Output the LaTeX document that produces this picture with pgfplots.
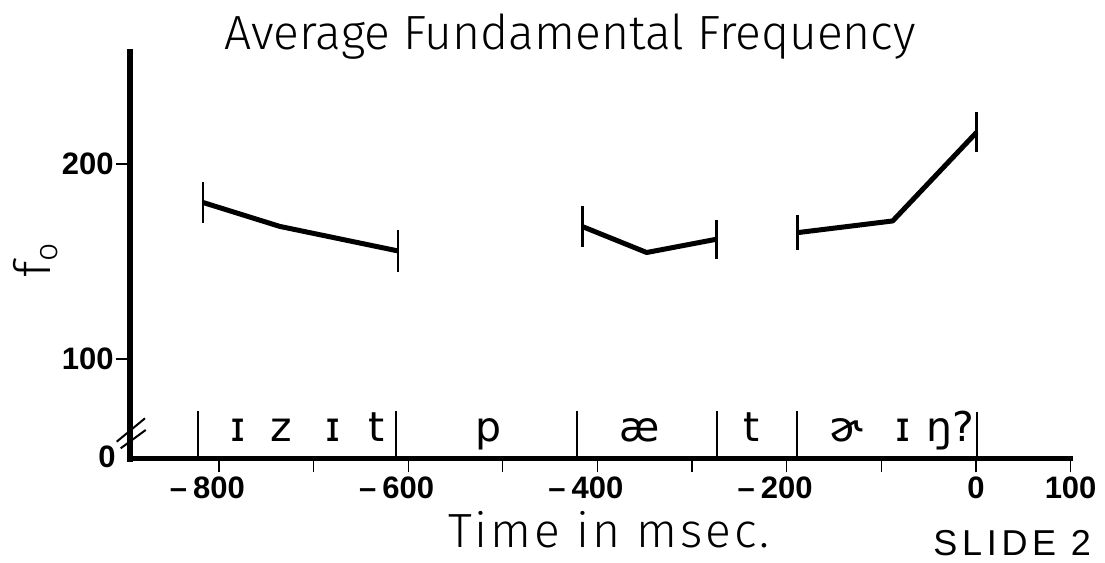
\documentclass[border=0pt]{standalone}
\usepackage{pgfplots}
\pgfplotsset{compat=1.18}
\usepackage{fontspec}
\setmainfont{Liberation Sans}
\newfontfamily\lightfont{Fira Sans}[UprightFont={* Light}]
\newfontfamily\ipafont{DejaVu Sans}
\newfontfamily\spacedfont{Fira Sans}[UprightFont={* Light}, LetterSpace=6]
\newfontfamily\slidefont{Liberation Sans}[LetterSpace=13]

\begin{document}
\begin{tikzpicture}[x=1pt,y=1pt]
\useasboundingbox (0,0) rectangle (552.5,281.5);
\begin{axis}[
  at={(65pt,52.35pt)}, anchor=south west,
  scale only axis, width=470.3pt, height=203.15pt,
  xmin=-894, xmax=100, ymin=49, ymax=257.5,
  axis lines=left,
  axis line style={-, line cap=rect},
  x axis line style={line width=2.5pt},
  y axis line style={line width=3.3pt},
  xtick={-800,-600,-400,-200,0,100},
  xticklabels={\llap{–\hspace{3pt}}800,\llap{–\hspace{3pt}}600,\llap{–\hspace{3pt}}400,\llap{–\hspace{3pt}}200,0,100},
  minor xtick={-700,-500,-300,-100},
  ytick={100,200},
  yticklabels={100,200},
  tick align=outside,
  major tick length=7pt,
  minor tick length=7pt,
  tick style={line width=0.6pt, black},
  minor tick style={line width=0.6pt, black},
  tick label style={font=\bfseries\fontsize{15.5}{16}\selectfont, inner sep=0pt},
  xticklabel style={yshift=-2pt},
  yticklabel style={xshift=-1pt},
]
% segment boundaries on the time axis
\addplot[ycomb, line width=1pt] coordinates {
  (-821.8,73.4) (-612.9,73.4) (-422,73.4) (-274,73.4) (-189.5,73.4) (1,72.6)};

% average f0 contours, with the spread marked at each end
\addplot[line width=2.5pt, line join=round,
  error bars/.cd, y dir=both, y explicit, error mark=none,
  error bar style={line width=1.2pt}]
  coordinates {(-817,180.3) +- (0,10.3) (-735.7,168) +- (0,0) (-610.7,155.4) +- (0,11)};
\addplot[line width=2.5pt, line join=round,
  error bars/.cd, y dir=both, y explicit, error mark=none,
  error bar style={line width=1.2pt}]
  coordinates {(-415.8,167.9) +- (0,10.7) (-348,154.6) +- (0,0) (-274.4,161.4) +- (0,10.1)};
\addplot[line width=2.5pt, line join=round,
  error bars/.cd, y dir=both, y explicit, error mark=none,
  error bar style={line width=1.2pt}]
  coordinates {(-188.7,164.8) +- (0,9) (-88,170.8) +- (0,0) (0.7,216.3) +- (0,10.3)};

% phonetic transcription
\begin{scope}[every node/.style={anchor=base, font=\ipafont\fontsize{20.5}{21}\selectfont}]
\node at (axis cs:-779.6,57.4) {ɪ};
\node at (axis cs:-733.7,57.4) {z};
\node at (axis cs:-679.2,57.4) {ɪ};
\node at (axis cs:-634,57.4) {t};
\node at (axis cs:-515.4,57.4) {p};
\node at (axis cs:-355,57.4) {æ};
\node at (axis cs:-237,57.4) {t};
\node at (axis cs:-136.6,57.4) {ɚ};
\node at (axis cs:-76.8,57.4) {ɪ};
\node at (axis cs:-39,57.4) {ŋ};
\node at (axis cs:-13.4,57.4) {?};
\end{scope}
\end{axis}

% axis break and zero label
\draw[line width=1pt] (58.35,60.65) -- (72.5,72.35);
\draw[line width=1pt] (60.35,57.35) -- (72.85,66.5);
\node[font=\bfseries\fontsize{15.5}{16}\selectfont] at (53.5,53) {0};

% titles
\node[anchor=base, font=\lightfont\fontsize{24}{24}\selectfont] at (285,256.5) {Average Fundamental Frequency};
\node[rotate=90, anchor=base, font=\lightfont\fontsize{25}{25}\selectfont] at (25,151.5)
  {f\raisebox{-0.3ex}{\fontsize{16}{16}\selectfont o}};
\node[anchor=base, font=\spacedfont\fontsize{24}{24}\selectfont] at (304.5,7.5) {Time in msec.};
\node[anchor=base east, font=\slidefont\fontsize{18}{18}\selectfont] at (549,3.5) {SLIDE 2};
\end{tikzpicture}
\end{document}
